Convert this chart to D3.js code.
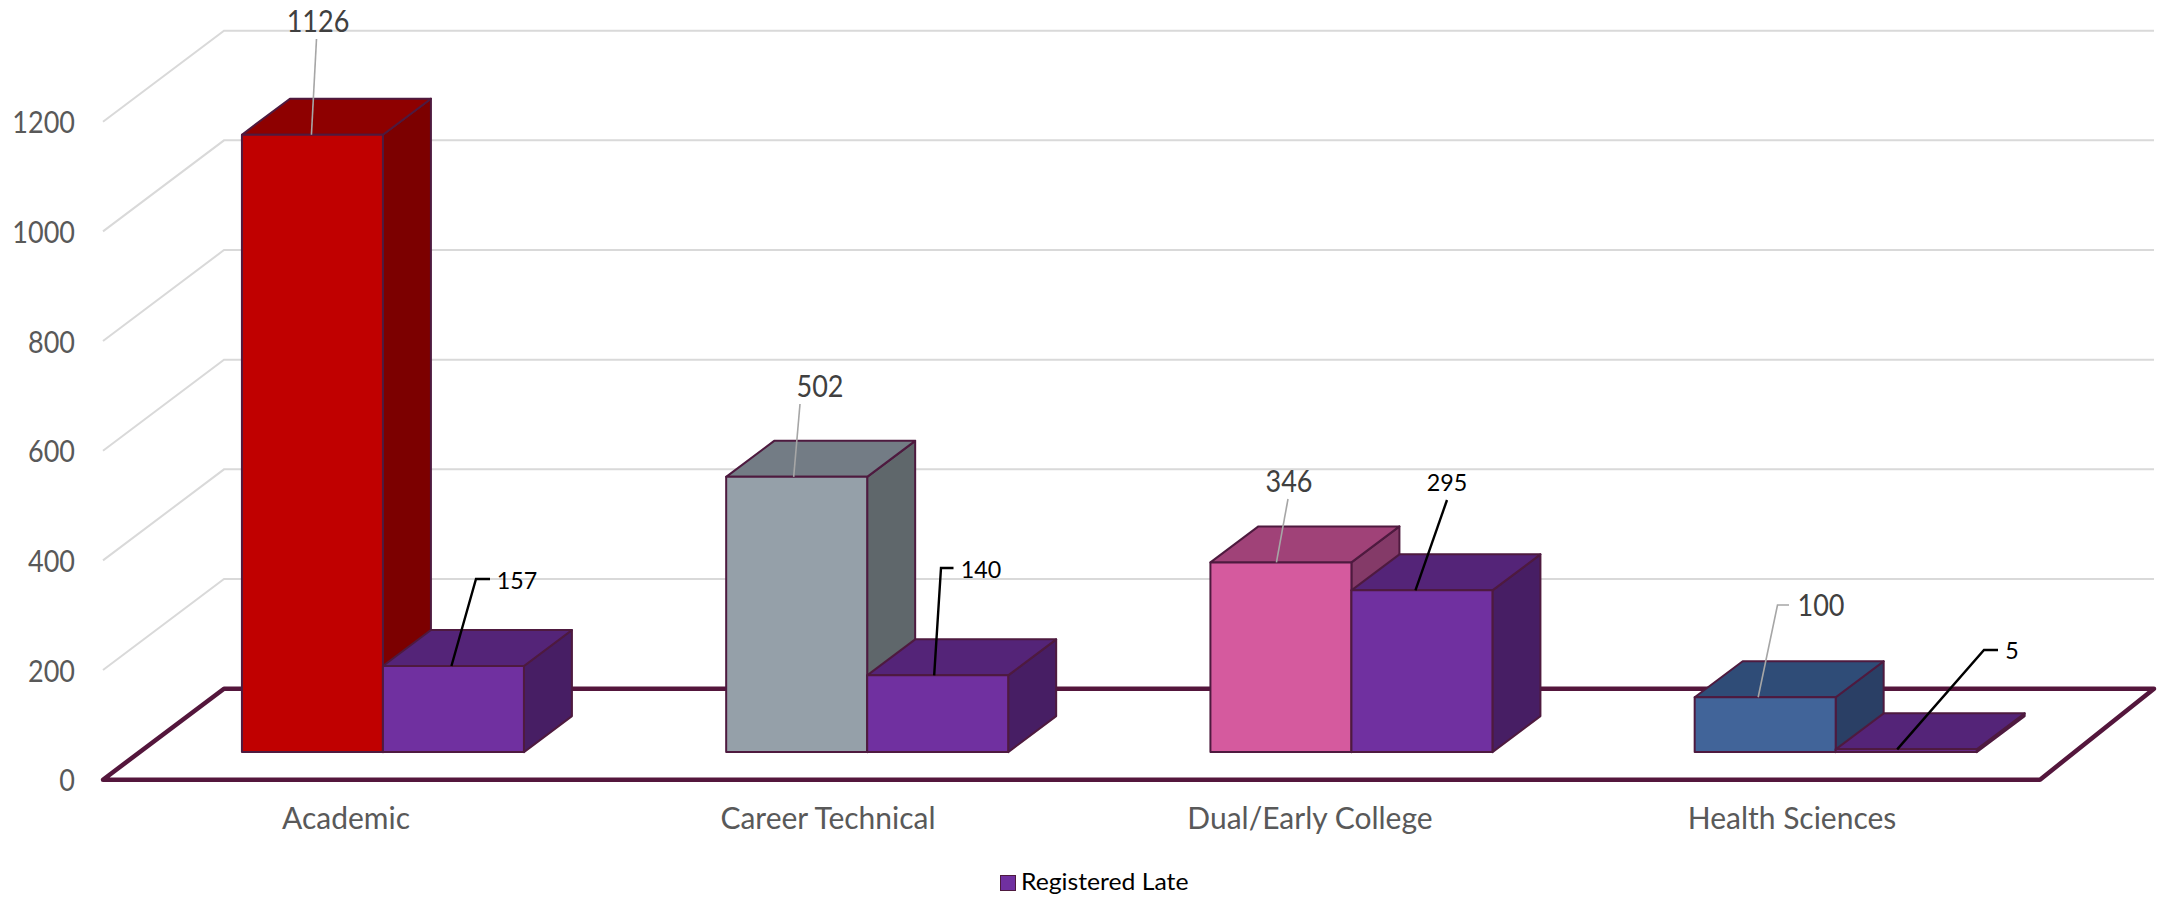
<!DOCTYPE html>
<html><head><meta charset="utf-8">
<script src="https://cdn.jsdelivr.net/npm/d3@7"></script>
<style>html,body{margin:0;padding:0;background:#fff}svg{display:block}text{font-family:Lato,"Open Sans",sans-serif}</style>
</head><body><svg id="c" width="2162" height="898"></svg>
<script>
// ---- data
const categories = ["Academic","Career Technical","Dual/Early College","Health Sciences"];
const firstSeries = [1126,502,346,100];
const lateSeries = [157,140,295,5];
const yTicks = [0,200,400,600,800,1000,1200];
const seriesName = "Registered Late";
// ---- style
const firstFaces = [
 {front:"#C00000",top:"#8E0000",side:"#7C0000"},
 {front:"#95A0A9",top:"#737C85",side:"#5F676B"},
 {front:"#D55A9E",top:"#A04278",side:"#843A68"},
 {front:"#416499",top:"#2F4C77",side:"#2A3F65"}];
const lateFaces = {front:"#7030A0",top:"#542478",side:"#471E64"};
const edge="#4E1A3F", floorEdge="#54163C", gridColor="#D9D9D9";
// ---- label placement
const firstLabels = [
 {x:318,y:32,size:30,endDx:-1,line:[[316.5,39]]},
 {x:820,y:397,size:30,endDx:-3,line:[[800,404]]},
 {x:1289,y:492,size:30,endDx:-4.5,line:[[1288,499]]},
 {x:1821,y:616,size:30,endDx:-7,line:[[1789,605],[1777.5,605]]}];
const lateLabels = [
 {x:517,y:589,size:24,endDx:-2,line:[[490,579],[476,579]]},
 {x:981,y:578,size:24,endDx:-3.5,line:[[953.5,568],[941,568]]},
 {x:1447,y:491,size:24,endDx:-6.5,line:[[1447,500]]},
 {x:2012,y:659,size:24,endDx:-9,line:[[1998,650],[1984,650]]}];

const svg=d3.select("#c");
const floor={x0:103,x1:2040,y:779.7,dx:121,dy:-91};
const barDepth={dx:48,dy:-36}, barInset={dx:37.8,dy:-27.6};
const x0=d3.scaleBand().domain(categories).range([floor.x0,floor.x1]);
const barsW=282;
const x1=d3.scaleBand().domain([0,1]).range([0,barsW]);
const yGrid=d3.scaleLinear().domain([0,1200]).range([floor.y,121.7]);
const yBar=d3.scaleLinear().domain([0,1200]).range([floor.y+barInset.dy,floor.y+barInset.dy-658]);
const path=d3.line();

// squeeze glyphs to the narrower numerals of the reference face
function fit(sel,k){
 sel.each(function(){
  const w=this.getComputedTextLength();
  d3.select(this).attr("textLength",w*k).attr("lengthAdjust","spacingAndGlyphs");
 });
}

// gridlines
svg.append("g").selectAll("path").data(yTicks.filter(d=>d>0)).join("path")
 .attr("d",d=>path([[floor.x0,yGrid(d)],[floor.x0+floor.dx,yGrid(d)+floor.dy],[2154,yGrid(d)+floor.dy]]))
 .attr("fill","none").attr("stroke",gridColor).attr("stroke-width",2);
// floor
svg.append("path")
 .attr("d",path([[floor.x0,floor.y],[floor.x0+floor.dx,floor.y+floor.dy],[2154,floor.y+floor.dy],[floor.x1,floor.y]])+"Z")
 .attr("fill","#fff").attr("stroke",floorEdge).attr("stroke-width",4.5).attr("stroke-linejoin","round");

// bars
function bar(g,x,w,v,c){
 const t=yBar(v),b=yBar(0),dx=barDepth.dx,dy=barDepth.dy;
 const faces=[
  {f:c.side,p:[[x+w,t],[x+w+dx,t+dy],[x+w+dx,b+dy],[x+w,b]]},
  {f:c.top,p:[[x,t],[x+dx,t+dy],[x+w+dx,t+dy],[x+w,t]]},
  {f:c.front,p:[[x,t],[x+w,t],[x+w,b],[x,b]]}];
 g.selectAll(null).data(faces).join("path").attr("d",d=>path(d.p)+"Z")
  .attr("fill",d=>d.f).attr("stroke",edge).attr("stroke-width",2).attr("stroke-linejoin","round");
}
const catX=c=>x0(c)+barInset.dx+(x0.bandwidth()-barsW)/2;
const barsG=svg.append("g");
categories.forEach((c,i)=>{
 const g=barsG.append("g");
 bar(g,catX(c)+x1(0),x1.bandwidth(),firstSeries[i],firstFaces[i]);
 bar(g,catX(c)+x1(1),x1.bandwidth(),lateSeries[i],lateFaces);
});

// leaders and value labels
function labels(vals,lay,idx,lineCol,textCol,k){
 const g=svg.append("g");
 vals.forEach((v,i)=>{
  const c=categories[i],L=lay[i];
  const end=[catX(c)+x1(idx)+x1.bandwidth()/2+L.endDx,yBar(v)];
  g.append("path").attr("d",path([...L.line,end])).attr("fill","none").attr("stroke",lineCol)
   .attr("stroke-width",lineCol==="#000"?2.4:1.6);
  g.append("text").attr("x",L.x).attr("y",L.y).attr("text-anchor","middle")
   .attr("font-size",L.size).attr("fill",textCol).text(v).call(fit,k);
 });
}
labels(firstSeries,firstLabels,0,"#A6A6A6","#404040",0.9);
labels(lateSeries,lateLabels,1,"#000","#000",0.97);

// axes (text only)
const yAxis=svg.append("g").attr("transform","translate(75,0)")
 .call(d3.axisLeft(yGrid).tickValues(yTicks).tickSize(0).tickPadding(0).tickFormat(d3.format("d")));
yAxis.select(".domain").remove();
yAxis.selectAll("text").attr("font-size",30).attr("fill","#595959").attr("font-family","Lato").attr("dy","0.37em").call(fit,0.9);
const xLab=d3.scaleBand().domain(categories).range([105,2033]);
const xAxis=svg.append("g").attr("transform","translate(0,829)")
 .call(d3.axisBottom(xLab).tickSize(0).tickPadding(0));
xAxis.select(".domain").remove();
xAxis.selectAll("text").attr("font-size",30).attr("fill","#595959").attr("font-family","Lato").attr("y",0).attr("dy",0);

// legend
svg.append("rect").attr("x",1000.5).attr("y",875.5).attr("width",15).attr("height",15)
 .attr("fill",lateFaces.front).attr("stroke",edge).attr("stroke-width",1);
svg.append("text").attr("x",1021).attr("y",890).attr("font-size",24).attr("fill","#000").text(seriesName).call(fit,1.03);
</script></body></html>
